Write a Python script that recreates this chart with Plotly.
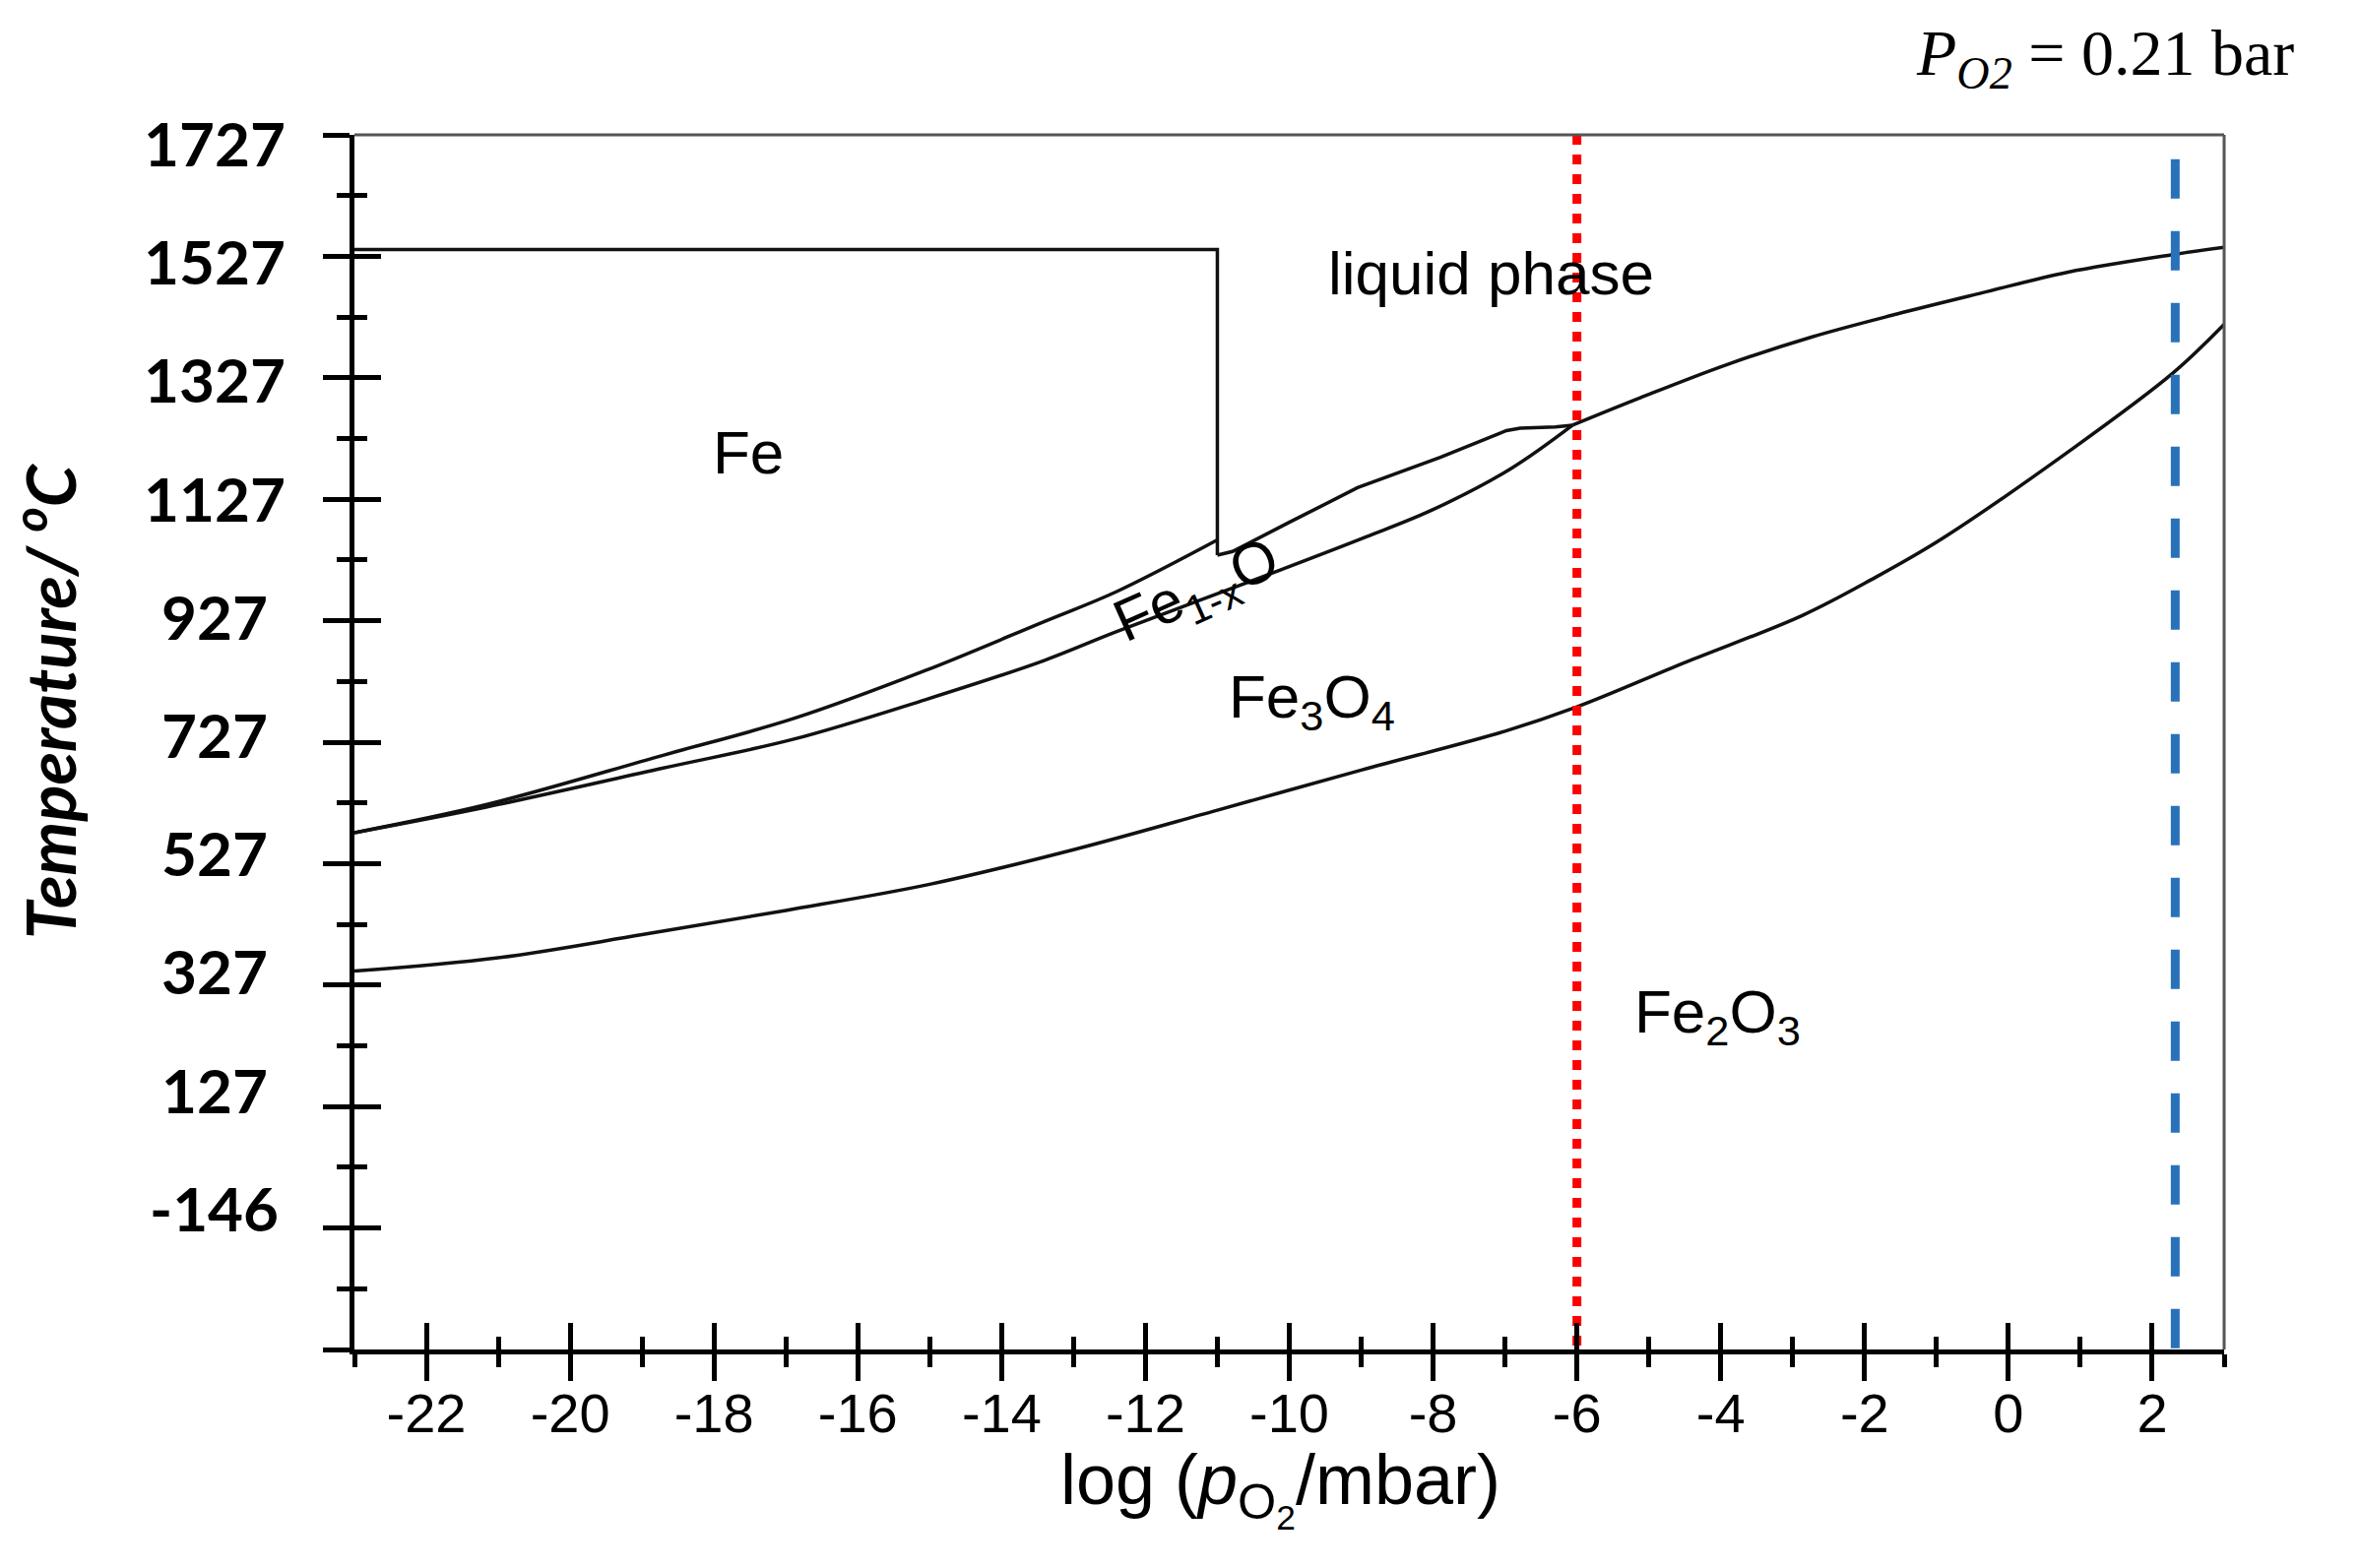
import plotly.graph_objects as go

# ---------------- data ----------------
x_major = [-22, -20, -18, -16, -14, -12, -10, -8, -6, -4, -2, 0, 2]
x_major_labels = ["-22", "-20", "-18", "-16", "-14", "-12", "-10", "-8", "-6", "-4", "-2", "0", "2"]
x_minor = [-23, -21, -19, -17, -15, -13, -11, -9, -7, -5, -3, -1, 1, 3]

y_major = [1727, 1527, 1327, 1127, 927, 727, 527, 327, 127, -73, -273]
y_major_labels = ["1727", "1527", "1327", "1127", "927", "727", "527", "327", "127", "-146", ""]
y_minor = [1627, 1427, 1227, 1027, 827, 627, 427, 227, 27, -173]

# Fe liquid boundary (horizontal at Fe melting point, then vertical)
fe_liq_x = [-23, -11, -11]
fe_liq_T = [1538, 1538, 1035]

# Fe / Fe1-xO boundary (left of the vertical line)
fe_feo_x = [-23, -21.17, -18.72, -16.89, -15.06, -13.42, -12.4, -11.0]
fe_feo_T = [578, 624, 705, 766, 845, 925, 975, 1060]

# Fe1-xO upper boundary right of the vertical line up to the junction
feo_liq_x = [-11.0, -10.79, -10.0, -9.05, -7.9, -6.98, -6.79, -6.3, -6.06]
feo_liq_T = [1035, 1041, 1089, 1146, 1196, 1240, 1244, 1246, 1249]

# Fe1-xO / Fe3O4 boundary
feo_fe3o4_x = [-23, -21.17, -18.72, -16.89, -15.06, -13.42, -12.4, -10.09, -8.93, -8.0, -6.91, -6.06]
feo_fe3o4_T = [578, 620, 684, 732, 797, 861, 909, 1012, 1065, 1110, 1178, 1249]

# Fe3O4 / liquid boundary
fe3o4_liq_x = [-6.06, -5.12, -3.93, -2.74, -1.55, -0.36, 0.83, 2.35, 3.0]
fe3o4_liq_T = [1249, 1294, 1348, 1394, 1432, 1467, 1501, 1531, 1542]

# Fe3O4 / Fe2O3 boundary
fe3o4_fe2o3_x = [-23, -21, -19, -17, -15, -13, -11, -9, -7, -6, -4.5, -2.86, -1.9, -0.95, 0.83, 2.29, 3.0]
fe3o4_fe2o3_T = [350, 372, 410, 450, 493, 550, 615, 681, 745, 785, 858, 936, 995, 1060, 1205, 1335, 1415]

red_x = -6.0
blue_x = 2.32
blue_T_top = 1687
T_top, T_bottom = 1727, -273
x_left, x_right = -23, 3

region_labels = ["Fe", "liquid phase", "Fe<sub>3</sub>O<sub>4</sub>", "Fe<sub>2</sub>O<sub>3</sub>"]
region_x = [-17.52, -7.2, -9.69, -4.04]
region_T = [1204, 1499, 795, 277]
feo_label = "Fe<sub>1-x</sub>O"
feo_label_x, feo_label_T = -11.28, 972

# ---------------- figure ----------------
fig = go.Figure()
black = "#111111"
for xs, ts, shape in [
    (fe_liq_x, fe_liq_T, "linear"),
    (fe_feo_x, fe_feo_T, "spline"),
    (feo_liq_x, feo_liq_T, "linear"),
    (feo_fe3o4_x, feo_fe3o4_T, "spline"),
    (fe3o4_liq_x, fe3o4_liq_T, "spline"),
    (fe3o4_fe2o3_x, fe3o4_fe2o3_T, "spline"),
]:
    fig.add_trace(go.Scatter(x=xs, y=ts, mode="lines", showlegend=False, hoverinfo="skip",
                             line=dict(color=black, width=3.5, shape=shape, smoothing=1.0)))

fig.add_trace(go.Scatter(x=[red_x, red_x], y=[T_top, T_bottom], mode="lines", showlegend=False,
                         line=dict(color="#FF0000", width=9, dash="10px,10px")))
fig.add_trace(go.Scatter(x=[blue_x, blue_x], y=[blue_T_top, T_bottom], mode="lines", showlegend=False,
                         line=dict(color="#2872BA", width=9, dash="40px,33px")))

# dummy traces for overlay axes (inside half of crossing ticks)
fig.add_trace(go.Scatter(x=[None], y=[None], xaxis="x2", yaxis="y", showlegend=False))
fig.add_trace(go.Scatter(x=[None], y=[None], xaxis="x", yaxis="y2", showlegend=False))

tick_font = dict(family="Liberation Sans, Arial, sans-serif", size=56, color="black")
fig.update_layout(
    width=2397, height=1593,
    margin=dict(l=360, r=138, t=137, b=222, autoexpand=False),
    paper_bgcolor="white", plot_bgcolor="white",
    xaxis=dict(range=[x_left, x_right], tickmode="array", tickvals=x_major, ticktext=x_major_labels,
               ticks="outside", ticklen=27, tickwidth=5, tickcolor="black",
               minor=dict(tickmode="array", tickvals=x_minor, ticks="outside", ticklen=13, tickwidth=5,
                          tickcolor="black", showgrid=False),
               showline=True, linewidth=5, linecolor="black", showgrid=False, zeroline=False,
               tickfont=tick_font, ticklabelstandoff=-15),
    xaxis2=dict(range=[x_left, x_right], overlaying="x", anchor="y", side="bottom", tickmode="array",
                tickvals=x_major, ticks="inside", ticklen=27, tickwidth=5, tickcolor="black",
                minor=dict(tickmode="array", tickvals=x_minor, ticks="inside", ticklen=13, tickwidth=5,
                           tickcolor="black", showgrid=False),
                showticklabels=False, showline=False, showgrid=False, zeroline=False),
    yaxis=dict(range=[T_bottom, T_top], tickmode="array", tickvals=y_major, showticklabels=False,
               ticks="outside", ticklen=27, tickwidth=5, tickcolor="black",
               minor=dict(tickmode="array", tickvals=y_minor, ticks="outside", ticklen=13, tickwidth=5,
                          tickcolor="black", showgrid=False),
               showline=True, linewidth=5, linecolor="black", showgrid=False, zeroline=False),
    yaxis2=dict(range=[T_bottom, T_top], overlaying="y", anchor="x", side="left", tickmode="array",
                tickvals=y_major, ticks="inside", ticklen=27, tickwidth=5, tickcolor="black",
                minor=dict(tickmode="array", tickvals=y_minor, ticks="inside", ticklen=13, tickwidth=5,
                           tickcolor="black", showgrid=False),
                showticklabels=False, showline=False, showgrid=False, zeroline=False),
)

# top and right frame lines (thin grey)
fig.add_shape(type="line", xref="x domain", yref="y domain", x0=0, x1=1, y0=1, y1=1,
              line=dict(color="#555555", width=3))
fig.add_shape(type="line", xref="x domain", yref="y domain", x0=1, x1=1, y0=0, y1=1,
              line=dict(color="#555555", width=3))

# y tick labels (bold, centred)
for i, (v, lab) in enumerate(zip(y_major, y_major_labels)):
    if not lab:
        continue
    fig.add_annotation(x=-0.0748, xref="paper", y=v, yref="y", text=lab, showarrow=False,
                       xanchor="center", yanchor="middle", yshift=3.2 * i - 8,
                       font=dict(family="Lato, Open Sans, sans-serif", size=62, color="black", weight="bold"))

# axis titles
fig.add_annotation(x=-0.1653, xref="paper", y=0.534, yref="paper", text="Temperature/ <sup>o</sup>C",
                   textangle=-90, showarrow=False, xanchor="center", yanchor="middle",
                   font=dict(family="Lato, Open Sans, sans-serif", size=69, color="black",
                             weight="bold", style="italic"))
fig.add_annotation(x=0.4955, xref="paper", y=-0.114, yref="paper",
                   text="log (<i>p</i><sub>O<sub>2</sub></sub>/mbar)", showarrow=False,
                   xanchor="center", yanchor="middle",
                   font=dict(family="Liberation Sans, Arial, sans-serif", size=72, color="black"))

# region labels
for lab, xv, tv in zip(region_labels, region_x, region_T):
    fig.add_annotation(x=xv, y=tv, text=lab, showarrow=False, xanchor="center", yanchor="middle",
                       font=dict(family="Liberation Sans, Arial, sans-serif", size=62, color="black"))
fig.add_annotation(x=feo_label_x, y=feo_label_T, text=feo_label, showarrow=False, textangle=-24,
                   xanchor="center", yanchor="middle",
                   font=dict(family="Liberation Sans, Arial, sans-serif", size=60, color="black"))

# P_O2 note
fig.add_annotation(x=1.0384, xref="paper", y=1.064, yref="paper",
                   text="<i>P</i><sub><i>O2</i></sub> = 0.21 bar", showarrow=False,
                   xanchor="right", yanchor="middle",
                   font=dict(family="Liberation Serif, Times New Roman, serif", size=66, color="black"))

fig.write_html("out.html", config={"displayModeBar": False},
               post_script="document.body.style.margin='0';document.body.style.overflow='hidden';")
